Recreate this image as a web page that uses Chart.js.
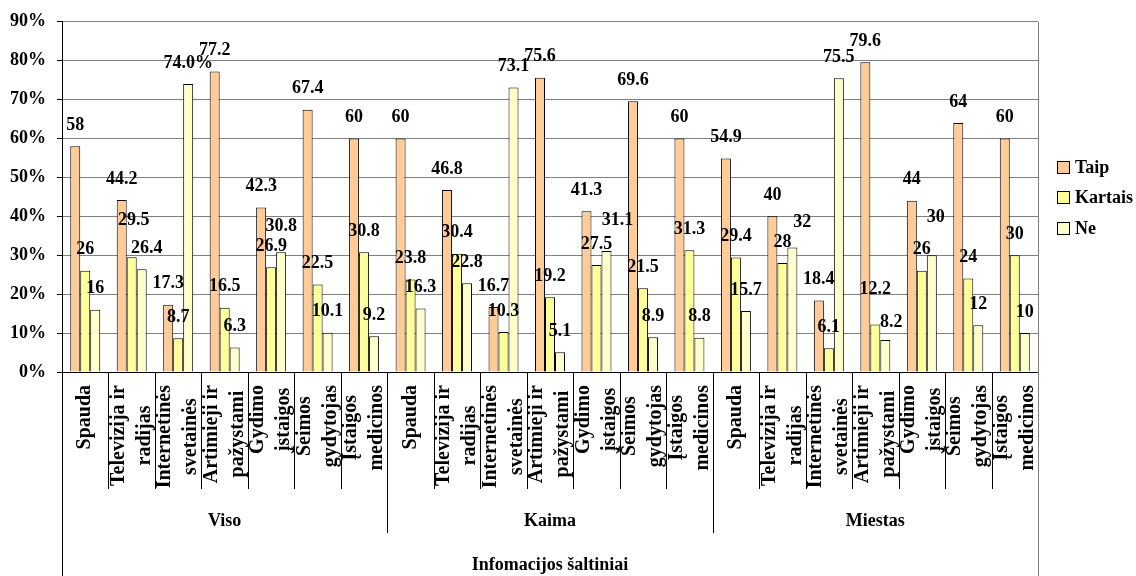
<!DOCTYPE html>
<html>
<head>
<meta charset="utf-8">
<title>Infomacijos šaltiniai</title>
<style>
  html, body { margin: 0; padding: 0; background: #ffffff; }
  #wrap { width: 1136px; height: 576px; }
</style>
<script src="https://cdn.jsdelivr.net/npm/chart.js@4.4.1/dist/chart.umd.min.js"></script>
</head>
<body>
<div id="wrap"><canvas id="chart" width="1136" height="576"></canvas></div>
<script>
// Respondent groups and information sources (each source label split into lines)
const groups = ['Viso', 'Kaima', 'Miestas'];
const sources = [
  ['Spauda'],
  ['Televizija ir', 'radijas'],
  ['Internetinės', 'svetainės'],
  ['Artimieji ir', 'pažystami'],
  ['Gydimo', 'įstaigos'],
  ['Šeimos', 'gydytojas'],
  ['Įstaigos', 'medicinos']
];
const axisTitle = 'Infomacijos šaltiniai';
const seriesNames = ['Taip', 'Kartais', 'Ne'];

// Shares in percent, 7 sources for Viso, then Kaima, then Miestas
const taip    = [58, 44.2, 17.3, 77.2, 42.3, 67.4, 60,
                 60, 46.8, 16.7, 75.6, 41.3, 69.6, 60,
                 54.9, 40, 18.4, 79.6, 44, 64, 60];
const kartais = [26, 29.5, 8.7, 16.5, 26.9, 22.5, 30.8,
                 23.8, 30.4, 10.3, 19.2, 27.5, 21.5, 31.3,
                 29.4, 28, 6.1, 12.2, 26, 24, 30];
const ne      = [16, 26.4, 74.0, 6.3, 30.8, 10.1, 9.2,
                 16.3, 22.8, 73.1, 5.1, 31.1, 8.9, 8.8,
                 15.7, 32, 75.5, 8.2, 30, 12, 10];

// Value axis ticks (percent)
const yTicks = [0, 10, 20, 30, 40, 50, 60, 70, 80, 90];

const seriesColors = ['#FFCC99', '#FFFF99', '#FFFFCC'];
const FONT = '"Liberation Serif", "Times New Roman", serif';

// One label text differs in format from the rest
const labelFormatOverrides = { '2:2': (v) => v.toFixed(1) + '%' };
// Hand-placed label nudges [dx, dy] for crowded spots, keyed "dataset:index"
const labelNudges = {
  '1:1': [2, -16], '1:17': [0, -14],
  '2:1': [5, 0], '2:4': [0, -5], '2:11': [11, -10],
  '2:15': [10, -4], '2:17': [6, 3], '2:18': [4, -17]
};

const categories = [];
groups.forEach(() => sources.forEach((s) => categories.push(s)));

const decorPlugin = {
  id: 'decor',
  afterDatasetsDraw(chart) {
    const ctx = chart.ctx;
    ctx.save();
    ctx.font = 'bold 18px ' + FONT;
    ctx.fillStyle = '#000';
    ctx.textAlign = 'center';
    ctx.textBaseline = 'middle';
    chart.data.datasets.forEach((ds, d) => {
      const meta = chart.getDatasetMeta(d);
      meta.data.forEach((bar, i) => {
        const v = ds.data[i];
        const key = d + ':' + i;
        const fmt = labelFormatOverrides[key];
        const text = fmt ? fmt(v) : String(v);
        const nudge = labelNudges[key] || [0, 0];
        ctx.fillText(text, bar.x + nudge[0], bar.y - 21 + nudge[1]);
      });
    });
    ctx.restore();
  },
  afterDraw(chart) {
    const ctx = chart.ctx;
    const area = chart.chartArea;
    const xs = chart.scales.x;
    const H = chart.height;
    const n = categories.length;
    const per = sources.length;
    const bottom = area.bottom;
    const crisp = (v) => Math.round(v) + 0.5;

    ctx.save();
    // plot frame on the right, running down through the category table
    ctx.strokeStyle = '#808080';
    ctx.lineWidth = 1;
    ctx.beginPath();
    ctx.moveTo(crisp(area.right), area.top);
    ctx.lineTo(crisp(area.right), H);
    ctx.stroke();

    // left axis continues down through the category table
    ctx.strokeStyle = '#000';
    ctx.beginPath();
    ctx.moveTo(crisp(area.left), bottom);
    ctx.lineTo(crisp(area.left), H);
    ctx.stroke();

    // separators between categories and between groups
    for (let i = 1; i < n; i++) {
      const xb = (xs.getPixelForValue(i - 1) + xs.getPixelForValue(i)) / 2;
      const len = (i % per === 0) ? 161 : 117;
      ctx.beginPath();
      ctx.moveTo(crisp(xb), bottom);
      ctx.lineTo(crisp(xb), bottom + len);
      ctx.stroke();
    }

    // rotated source labels, lines centred on each other
    ctx.fillStyle = '#000';
    ctx.font = 'bold 20px ' + FONT;
    ctx.textAlign = 'center';
    ctx.textBaseline = 'middle';
    const lh = 26;
    categories.forEach((lines, i) => {
      const cx = xs.getPixelForValue(i);
      const L = Math.max(...lines.map((l) => ctx.measureText(l).width));
      const cy = bottom + 13 + L / 2;
      lines.forEach((line, j) => {
        const off = (j - (lines.length - 1) / 2) * lh;
        ctx.save();
        ctx.translate(cx + off, cy);
        ctx.rotate(-Math.PI / 2);
        ctx.fillText(line, 0, 0);
        ctx.restore();
      });
    });

    // group labels
    ctx.font = 'bold 18px ' + FONT;
    groups.forEach((g, k) => {
      const gx = (xs.getPixelForValue(k * per) + xs.getPixelForValue(k * per + per - 1)) / 2;
      ctx.fillText(g, gx, bottom + 149);
    });

    // axis title
    ctx.fillText(axisTitle, (area.left + area.right) / 2, H - 11);

    // legend
    ctx.textAlign = 'left';
    chart.data.datasets.forEach((ds, d) => {
      const cyL = 167 + d * 30.7;
      const bx = 1057, size = 13;
      const by = Math.round(cyL - size / 2);
      ctx.fillStyle = ds.backgroundColor;
      ctx.fillRect(bx, by, size, size);
      ctx.strokeStyle = '#000';
      ctx.strokeRect(bx + 0.5, by + 0.5, size - 1, size - 1);
      ctx.fillStyle = '#000';
      ctx.fillText(ds.label, 1075, cyL + 1);
    });
    ctx.restore();
  }
};

new Chart(document.getElementById('chart'), {
  type: 'bar',
  data: {
    labels: categories.map((l) => l.join(' ')),
    datasets: [
      { label: seriesNames[0], data: taip, backgroundColor: seriesColors[0] },
      { label: seriesNames[1], data: kartais, backgroundColor: seriesColors[1] },
      { label: seriesNames[2], data: ne, backgroundColor: seriesColors[2] }
    ].map((ds) => Object.assign(ds, {
      borderColor: '#000000',
      borderWidth: 1,
      categoryPercentage: 0.645,
      barPercentage: 1.0
    }))
  },
  options: {
    responsive: false,
    devicePixelRatio: 1,
    animation: false,
    layout: { padding: { top: 19, right: 98, left: 0, bottom: 0 } },
    plugins: {
      legend: { display: false },
      tooltip: { enabled: false }
    },
    scales: {
      x: {
        offset: true,
        grid: { display: false },
        ticks: { display: false },
        border: { display: true, color: '#000000', width: 1 },
        afterFit: (s) => { s.height = 204; }
      },
      y: {
        min: yTicks[0],
        max: yTicks[yTicks.length - 1],
        afterBuildTicks: (s) => { s.ticks = yTicks.map((v) => ({ value: v })); },
        ticks: {
          callback: (v) => v + '%',
          color: '#000000',
          padding: 11,
          font: { family: FONT, size: 18, weight: 'bold' }
        },
        grid: { color: '#808080', tickColor: '#000000', tickLength: 5, lineWidth: 1 },
        border: { display: true, color: '#000000', width: 1 },
        afterFit: (s) => { s.width = 62; }
      }
    }
  },
  plugins: [decorPlugin]
});
</script>
</body>
</html>
